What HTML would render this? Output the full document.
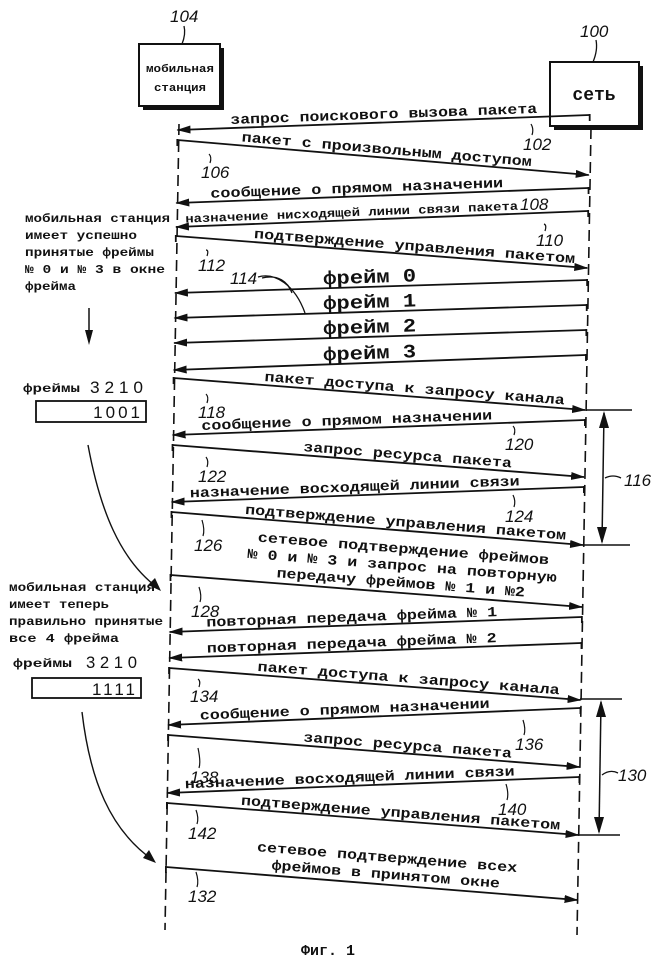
<!DOCTYPE html>
<html><head><meta charset="utf-8">
<style>
html,body{margin:0;padding:0;background:#fff;}
svg{display:block;}
.m{font-family:"Liberation Mono","DejaVu Sans Mono",monospace;font-weight:bold;fill:#111;}
.n{font-family:"Liberation Sans Narrow","Liberation Sans",sans-serif;font-style:italic;fill:#111;font-size:17px;}
.d{font-family:"Liberation Sans Narrow","Liberation Sans",sans-serif;fill:#111;font-size:17px;}
</style></head>
<body>
<svg id="s" width="657" height="964" viewBox="0 0 657 964" xmlns="http://www.w3.org/2000/svg">
<defs>
<marker id="ah" markerWidth="14" markerHeight="8" refX="13" refY="4" orient="auto" markerUnits="userSpaceOnUse">
<path d="M0,0 L14,4 L0,8 z" fill="#111"/></marker>
</defs>
<!-- boxes -->
<rect x="143" y="48" width="81" height="62" fill="#111"/>
<rect x="139" y="44" width="81" height="62" fill="#fff" stroke="#111" stroke-width="2"/>
<text class="m" x="180" y="72" font-size="11" text-anchor="middle" textLength="68" lengthAdjust="spacingAndGlyphs">мобильная</text>
<text class="m" x="180" y="91" font-size="11" text-anchor="middle" textLength="52" lengthAdjust="spacingAndGlyphs">станция</text>
<rect x="554" y="66" width="89" height="64" fill="#111"/>
<rect x="550" y="62" width="89" height="64" fill="#fff" stroke="#111" stroke-width="2"/>
<text class="m" x="594" y="100" font-size="18" text-anchor="middle">сеть</text>
<text class="n" x="170" y="22">104</text>
<path d="M184,26 q2,8 -2,18" fill="none" stroke="#111" stroke-width="1.3"/>
<text class="n" x="580" y="37">100</text>
<path d="M596,40 q2,10 -3,22" fill="none" stroke="#111" stroke-width="1.3"/>
<!-- lifelines -->
<line x1="179" y1="124" x2="165" y2="930" stroke="#111" stroke-width="1.6" stroke-dasharray="11,6"/>
<line x1="591" y1="128" x2="577" y2="935" stroke="#111" stroke-width="1.6" stroke-dasharray="11,6"/>
<g id="g"></g>
<!-- brackets -->
<line x1="586" y1="410" x2="632" y2="410" stroke="#111" stroke-width="1.5"/>
<line x1="584" y1="545" x2="630" y2="545" stroke="#111" stroke-width="1.5"/>
<line x1="604" y1="413" x2="602" y2="542" stroke="#111" stroke-width="1.5"/>
<path d="M599,428 L604,411 L609,428z M597,527 L602,544 L607,527z" fill="#111"/>
<path d="M605,478 q8,-4 16,0" fill="none" stroke="#111" stroke-width="1.3"/>
<text class="n" x="624" y="486">116</text>
<line x1="580" y1="699" x2="622" y2="699" stroke="#111" stroke-width="1.5"/>
<line x1="578" y1="835" x2="620" y2="835" stroke="#111" stroke-width="1.5"/>
<line x1="601" y1="702" x2="599" y2="832" stroke="#111" stroke-width="1.5"/>
<path d="M596,717 L601,700 L606,717z M594,817 L599,834 L604,817z" fill="#111"/>
<path d="M602,775 q8,-6 16,-2" fill="none" stroke="#111" stroke-width="1.3"/>
<text class="n" x="618" y="781">130</text>
<!-- left notes -->
<g class="m" font-size="12">
<text x="25" y="222" textLength="145" lengthAdjust="spacingAndGlyphs">мобильная станция</text>
<text x="25" y="239" textLength="112" lengthAdjust="spacingAndGlyphs">имеет успешно</text>
<text x="25" y="256" textLength="129" lengthAdjust="spacingAndGlyphs">принятые фреймы</text>
<text x="25" y="273" textLength="140" lengthAdjust="spacingAndGlyphs">№ 0 и № 3 в окне</text>
<text x="25" y="290" textLength="51" lengthAdjust="spacingAndGlyphs">фрейма</text>
</g>
<line x1="89" y1="308" x2="89" y2="335" stroke="#111" stroke-width="1.5"/>
<path d="M85,330 L89,345 L93,330z" fill="#111"/>
<text class="m" x="23" y="392" font-size="12" textLength="57" lengthAdjust="spacingAndGlyphs">фреймы</text>
<text class="d" x="90" y="393" textLength="53" lengthAdjust="spacingAndGlyphs">3 2 1 0</text>
<rect x="36" y="401" width="110" height="21" fill="none" stroke="#111" stroke-width="1.8"/>
<text class="d" x="143" y="418" text-anchor="end" letter-spacing="3">1001</text>
<path d="M88,445 C100,510 120,560 158,588" fill="none" stroke="#111" stroke-width="1.4"/>
<path d="M148,585 L161,591 L155,578z" fill="#111"/>
<g class="m" font-size="12">
<text x="9" y="591" textLength="146" lengthAdjust="spacingAndGlyphs">мобильная станция</text>
<text x="9" y="608" textLength="100" lengthAdjust="spacingAndGlyphs">имеет теперь</text>
<text x="9" y="625" textLength="154" lengthAdjust="spacingAndGlyphs">правильно принятые</text>
<text x="9" y="642" textLength="110" lengthAdjust="spacingAndGlyphs">все 4 фрейма</text>
</g>
<text class="m" x="13" y="667" font-size="12" textLength="59" lengthAdjust="spacingAndGlyphs">фреймы</text>
<text class="d" x="86" y="668" textLength="51" lengthAdjust="spacingAndGlyphs">3 2 1 0</text>
<rect x="32" y="678" width="109" height="20" fill="none" stroke="#111" stroke-width="1.8"/>
<text class="d" x="138" y="695" text-anchor="end" letter-spacing="3">1111</text>
<path d="M82,712 C90,780 110,830 153,860" fill="none" stroke="#111" stroke-width="1.4"/>
<path d="M143,858 L156,863 L149,850z" fill="#111"/>
<!-- 114 -->
<text class="n" x="230" y="284">114</text>
<path d="M258,277 C275,272 295,285 305,313 M262,278 C278,274 288,282 292,293" fill="none" stroke="#111" stroke-width="1.3"/>
<text class="m" x="328" y="955" font-size="15" text-anchor="middle">Фиг. 1</text>
</svg>
<script>
var L=function(y){return 178-13*(y-95)/830;}, R=function(y){return 590-13*(y-95)/835;};
// [fromRight, yStart, yEnd, [[text,width]...], cx, fontsize]
var A=[
[1,115,130,[["запрос поискового вызова пакета",307]],384,14],
[0,140,175,[["пакет с произвольным доступом",291]],386,14],
[1,188,203,[["сообщение о прямом назначении",293]],357,14],
[1,211,227,[["назначение нисходящей линии связи пакета",333]],352,12],
[0,236,268,[["подтверждение управления пакетом",322]],414,14],
[1,280,293,[["фрейм 0",93]],370,19],
[1,305,318,[["фрейм 1",93]],370,19],
[1,330,343,[["фрейм 2",93]],370,19],
[1,355,370,[["фрейм 3",93]],370,19],
[0,378,410,[["пакет доступа к запросу канала",301]],414,14],
[1,420,435,[["сообщение о прямом назначении",291]],347,14],
[0,445,477,[["запрос ресурса пакета",209]],407,14],
[1,487,502,[["назначение восходящей линии связи",330]],355,14],
[0,512,545,[["подтверждение управления пакетом",322]],405,14],
[0,575,607,[["сетевое подтверждение фреймов",292],["№ 0 и № 3 и запрос на повторную",310],["передачу фреймов № 1 и №2",249]],400,14],
[1,617,632,[["повторная передача фрейма № 1",291]],352,14],
[1,643,658,[["повторная передача фрейма № 2",290]],352,14],
[0,668,700,[["пакет доступа к запросу канала",303]],408,14],
[1,708,725,[["сообщение о прямом назначении",290]],345,14],
[0,735,767,[["запрос ресурса пакета",209]],407,14],
[1,777,793,[["назначение восходящей линии связи",330]],350,14],
[0,803,835,[["подтверждение управления пакетом",320]],400,14],
[0,867,900,[["сетевое подтверждение всех",261],["фреймов в принятом окне",229]],385,14]
];
var g=document.getElementById('g'),h="";
A.forEach(function(a){
 var x1,y1,x2,y2;
 if(a[0]){x1=R(a[1]);y1=a[1];x2=L(a[2]);y2=a[2];}else{x1=L(a[1]);y1=a[1];x2=R(a[2]);y2=a[2];}
 h+='<line x1="'+x1+'" y1="'+y1+'" x2="'+x2+'" y2="'+y2+'" stroke="#111" stroke-width="1.8" marker-end="url(#ah)"/>';
 h+='<line x1="'+x1+'" y1="'+(y1-1)+'" x2="'+x1+'" y2="'+(y1+6)+'" stroke="#111" stroke-width="1.8"/>';
 var ang=Math.atan2(y2-y1,x2-x1)*180/Math.PI; if(a[0])ang-=180;
 var cx=a[4], t=(cx-x1)/(x2-x1), ly=y1+t*(y2-y1);
 var n=a[3].length, fs=a[5], lh=17;
 for(var i=0;i<n;i++){
  var yy=ly-4-(n-1-i)*lh;
  if(n>1) yy=ly-6-(n-1-i)*lh;
  h+='<text class="m" x="'+cx+'" y="'+yy+'" font-size="'+fs+'" text-anchor="middle" textLength="'+a[3][i][1]+'" lengthAdjust="spacingAndGlyphs" transform="rotate('+ang.toFixed(2)+' '+cx+' '+ly+')">'+a[3][i][0]+'</text>';
 }
});
var N=[["102",523,150,532,122],["106",201,178,214,152],["108",520,210,510,196],["110",536,246,540,222],["112",198,271,212,248],
["118",198,418,208,392],["120",505,450,516,424],["122",198,482,210,455],["124",505,522,520,493],["126",194,551,206,518],
["128",191,617,206,585],["134",190,702,204,677],["136",515,750,519,718],["138",190,783,204,746],["140",498,815,512,782],["142",188,839,204,808],["132",188,902,204,870]];
N.forEach(function(p){h+='<text class="n" x="'+p[1]+'" y="'+p[2]+'">'+p[0]+'</text>';
 var tx=p[1]+9, ty=p[2]-15; h+='<path d="M'+tx+','+ty+' q2,-6 -1,-'+(ty-p[4]-2)+'" fill="none" stroke="#111" stroke-width="1.2"/>';});
g.innerHTML=h;
</script>
</body></html>
